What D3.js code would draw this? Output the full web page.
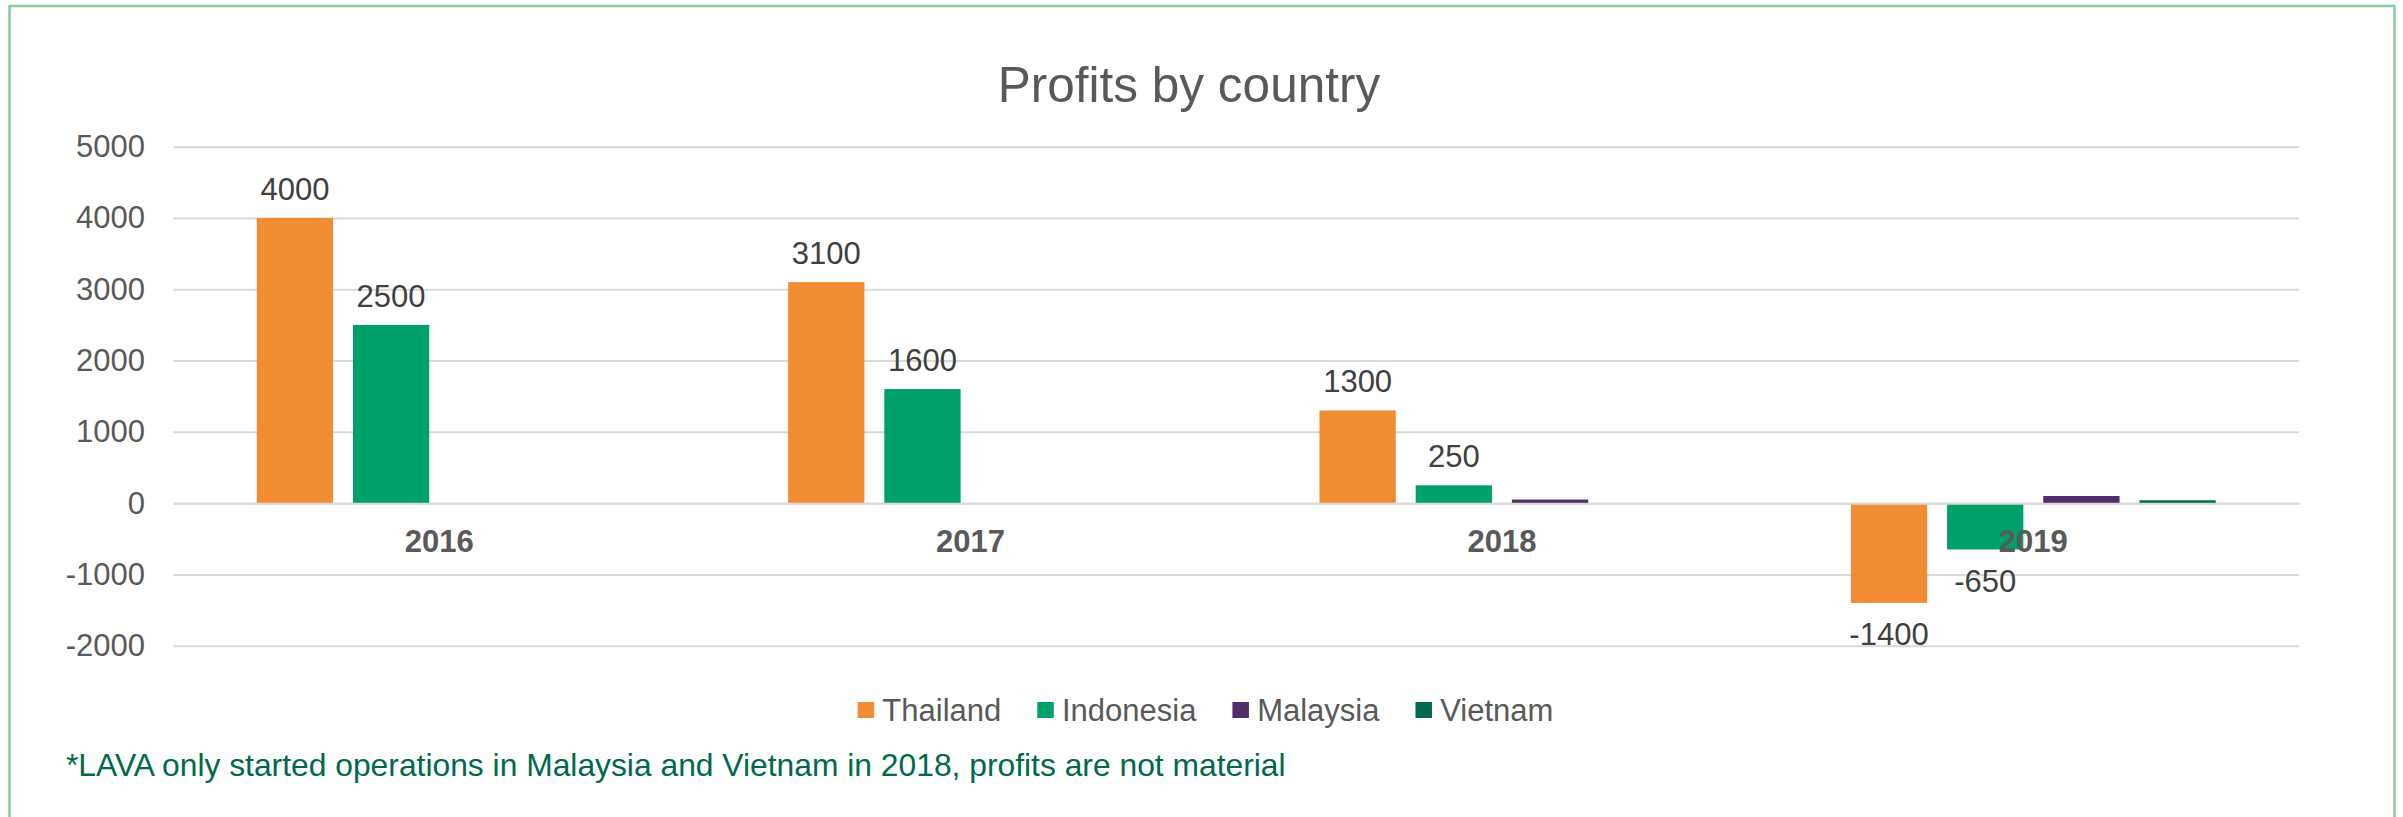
<!DOCTYPE html>
<html>
<head>
<meta charset="utf-8">
<title>Profits by country</title>
<script src="https://cdn.jsdelivr.net/npm/d3@7"></script>
<style>
  body { margin: 0; background: #ffffff; }
  svg { display: block; font-family: "Liberation Sans", Arial, sans-serif; }
</style>
</head>
<body>
<div id="chart"></div>
<script>

/**
 * chart data
 */
var years = ['2016', '2017', '2018', '2019'];
var countries = ['Thailand', 'Indonesia', 'Malaysia', 'Vietnam'];
var thailand_values = [4000, 3100, 1300, -1400];
var indonesia_values = [2500, 1600, 250, -650];
var malaysia_values = [0, 0, 50, 100];
var vietnam_values = [0, 0, 0, 40];
var y_tick_values = [-2000, -1000, 0, 1000, 2000, 3000, 4000, 5000];
// only these series get data labels
var labelled_countries = ['Thailand', 'Indonesia'];

var chart_title = 'Profits by country';
var footnote_text = '*LAVA only started operations in Malaysia and Vietnam in 2018, profits are not material';

var country_colors = {
  'Thailand' : '#f28c33',
  'Indonesia' : '#00a06d',
  'Malaysia' : '#512d6d',
  'Vietnam' : '#006b4d'
};

var app_profit_chart = (function () {
  var width = 2403;
  var height = 817;
  var plot_left = 173.5;
  var plot_right = 2299;
  var plot_top = 146.7;
  var plot_bottom = 645.7;
  var font_size = 31;

  function buildRows() {
    var value_lists = [thailand_values, indonesia_values, malaysia_values, vietnam_values];
    return years.map(function (year, i) {
      return {
        'year' : year,
        'values' : countries.map(function (country, j) {
          return { 'country' : country, 'value' : value_lists[j][i] };
        })
      };
    });
  }

  function draw() {
    var rows = buildRows();

    var svg = d3.select('#chart').append('svg')
      .attr('width', width)
      .attr('height', height);

    svg.append('rect')
      .attr('width', width).attr('height', height)
      .attr('fill', '#ffffff');

    // chart area border (bottom edge is cut off)
    svg.append('rect')
      .attr('x', 9.5).attr('y', 6)
      .attr('width', 2385).attr('height', 900)
      .attr('fill', 'none')
      .attr('stroke', '#8dcc9f')
      .attr('stroke-width', 2.6);

    svg.append('text')
      .attr('x', 1189).attr('y', 101.7)
      .attr('text-anchor', 'middle')
      .attr('font-size', 49.5)
      .attr('fill', '#595959')
      .text(chart_title);

    var y = d3.scaleLinear()
      .domain([-2000, 5000])
      .range([plot_bottom, plot_top]);

    var x0 = d3.scaleBand()
      .domain(years)
      .range([plot_left, plot_right])
      .paddingInner(0.3133)
      .paddingOuter(0.1567);

    var x1 = d3.scaleBand()
      .domain(countries)
      .range([0, x0.bandwidth()])
      .paddingInner(0.207);

    // y axis with gridlines
    var y_axis = svg.append('g')
      .attr('transform', 'translate(' + plot_left + ',0)')
      .call(d3.axisLeft(y)
        .tickValues(y_tick_values)
        .tickSize(-(plot_right - plot_left))
        .tickPadding(28.5)
        .tickFormat(function (d) { return String(d); }));

    y_axis.select('.domain').remove();
    y_axis.selectAll('.tick line')
      .attr('stroke', '#d9d9d9')
      .attr('stroke-width', 2);
    y_axis.selectAll('.tick text')
      .attr('font-size', font_size)
      .attr('font-family', null)
      .attr('fill', '#595959');

    // bars
    var groups = svg.append('g').selectAll('g')
      .data(rows)
      .enter()
      .append('g')
      .attr('transform', function (d) {
        return 'translate(' + x0(d.year) + ',0)';
      });

    groups.selectAll('rect')
      .data(function (d) { return d.values; })
      .enter()
      .append('rect')
      .attr('x', function (d) { return x1(d.country); })
      .attr('width', x1.bandwidth())
      .attr('y', function (d) { return y(Math.max(0, d.value)); })
      .attr('height', function (d) { return Math.abs(y(d.value) - y(0)); })
      .attr('fill', function (d) { return country_colors[d.country]; });

    // data labels
    groups.selectAll('text')
      .data(function (d) {
        return d.values.filter(function (v) {
          return labelled_countries.indexOf(v.country) >= 0;
        });
      })
      .enter()
      .append('text')
      .attr('x', function (d) { return x1(d.country) + x1.bandwidth() / 2; })
      .attr('y', function (d) {
        if (d.value >= 0) {
          return y(d.value) - 18.3;
        }
        return y(d.value) + 42.4;
      })
      .attr('text-anchor', 'middle')
      .attr('font-size', font_size)
      .attr('fill', '#404040')
      .text(function (d) { return String(d.value); });

    // category axis on the zero line
    var x_axis = svg.append('g')
      .attr('transform', 'translate(0,' + y(0) + ')')
      .call(d3.axisBottom(x0).tickSize(0).tickPadding(27));

    x_axis.select('.domain')
      .attr('stroke', '#d9d9d9')
      .attr('stroke-width', 2);
    x_axis.selectAll('.tick text')
      .attr('font-size', font_size)
      .attr('font-family', null)
      .attr('font-weight', 'bold')
      .attr('fill', '#595959');

    drawLegend(svg);

    svg.append('text')
      .attr('x', 66).attr('y', 775.7)
      .attr('font-size', 31.8)
      .attr('fill', '#00694b')
      .text(footnote_text);
  }

  function drawLegend(svg) {
    var legend = svg.append('g');
    var cursor = 0;
    var item_gap = 36;

    countries.forEach(function (country, i) {
      var item = legend.append('g').attr('transform', 'translate(' + cursor + ',0)');
      item.append('rect')
        .attr('x', 0).attr('y', 702)
        .attr('width', 16.5).attr('height', 16)
        .attr('fill', country_colors[country]);
      var label = item.append('text')
        .attr('x', 24.7).attr('y', 721)
        .attr('font-size', font_size)
        .attr('fill', '#595959')
        .text(country);
      cursor += 24.7 + label.node().getComputedTextLength();
      if (i < countries.length - 1) {
        cursor += item_gap;
      }
    });

    legend.attr('transform', 'translate(' + (1205.5 - cursor / 2) + ',0)');
  }

  return {
    'draw' : draw
  };

}());

app_profit_chart.draw();

</script>
</body>
</html>
